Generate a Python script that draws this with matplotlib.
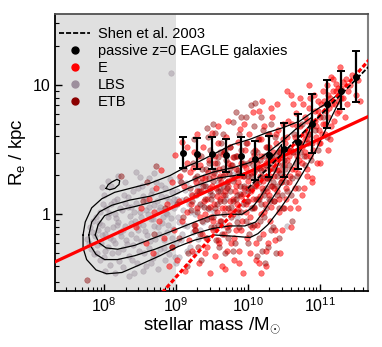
import numpy as np
import matplotlib.pyplot as plt
from matplotlib.lines import Line2D

plt.rcParams['font.family'] = ['Liberation Sans', 'DejaVu Sans']
plt.rcParams['mathtext.fontset'] = 'custom'
plt.rcParams['mathtext.rm'] = 'Liberation Sans'
plt.rcParams['mathtext.it'] = 'Liberation Sans:italic'

# passive EAGLE galaxies: median size per mass bin (log10 values)
bin_logm = [9.1, 9.3, 9.5, 9.7, 9.9, 10.1, 10.3, 10.5, 10.7, 10.9, 11.1, 11.3, 11.5]
bin_logr = [0.477, 0.469, 0.469, 0.461, 0.454, 0.428, 0.461, 0.505, 0.557, 0.698, 0.851, 0.954, 1.059]
bin_lo = [0.361, 0.353, 0.351, 0.325, 0.302, 0.265, 0.291, 0.291, 0.348, 0.477, 0.665, 0.814, 0.866]
bin_hi = [0.595, 0.588, 0.601, 0.585, 0.595, 0.570, 0.606, 0.709, 0.773, 0.928, 1.039, 1.108, 1.263]

# LBS
lbs_logm = [7.76, 7.80, 7.82, 7.85, 7.87, 7.90, 7.92, 7.94, 7.96, 7.98,
            8.00, 8.01, 8.03, 8.05, 8.06, 8.08, 8.10, 8.11, 8.13, 8.15,
            8.16, 8.18, 8.20, 8.21, 8.23, 8.25, 8.26, 8.28, 8.30, 8.31,
            8.33, 8.35, 8.36, 8.38, 8.40, 8.41, 8.43, 8.45, 8.46, 8.48,
            8.50, 8.51, 8.53, 8.55, 8.56, 8.58, 8.60, 8.61, 8.63, 8.65,
            8.66, 8.68, 8.70, 8.71, 8.73, 8.75, 8.76, 8.78, 8.80, 8.81,
            8.83, 8.85, 8.86, 8.88, 8.90, 8.91, 8.93, 8.95, 8.96, 8.98,
            9.00, 9.02, 9.04, 9.06, 9.08, 9.10, 9.13, 9.15, 9.18, 9.20,
            9.23, 9.26, 9.30, 9.33, 9.36, 9.40, 9.44, 9.48, 9.53, 9.58,
            9.64, 9.70, 9.78, 9.85, 9.95, 10.05, 10.20, 10.55, 8.93, 8.05,
            8.20, 8.45, 8.62, 7.98, 8.15, 8.35, 8.55, 8.75, 9.00, 9.25,
            7.79, 7.83, 7.86, 7.89, 7.91, 7.93, 7.95, 7.97, 7.99, 8.02,
            8.04, 8.07, 8.09, 8.12, 8.14, 8.17, 8.19, 8.22, 8.24, 8.27,
            8.29, 8.32, 8.34, 8.37, 8.39, 8.42, 8.44, 8.47, 8.49, 8.52,
            8.54, 8.57, 8.59, 8.62, 8.64, 8.67, 8.69, 8.72, 8.74, 8.77,
            8.79, 8.82, 8.84, 8.87, 8.89, 8.92, 8.94, 8.97, 8.99, 9.01,
            9.03, 9.05, 9.07, 9.09, 9.12, 9.14, 9.16, 9.19, 9.21, 9.24,
            9.27, 9.29, 9.31, 9.34, 9.38, 9.42, 9.46, 9.50, 9.55, 9.62,
            8.00, 8.10, 8.30, 8.50, 8.70, 8.26, 8.48, 8.68, 8.88, 8.58,
            8.18, 8.38, 8.78, 8.98, 9.11, 8.42, 8.65, 8.85, 9.05, 8.02]
lbs_logr = [-0.19, -0.10, -0.27, -0.05, -0.17, -0.30, -0.12, 0.02, -0.22, -0.08,
            -0.33, -0.15, 0.05, -0.25, -0.02, -0.18, 0.08, -0.30, -0.10, 0.00,
            -0.22, 0.12, -0.06, -0.36, -0.14, 0.03, -0.27, 0.15, -0.09, -0.20,
            0.06, -0.32, -0.01, -0.15, 0.18, -0.24, -0.05, 0.09, -0.38, -0.12,
            0.02, -0.21, 0.22, -0.08, -0.30, 0.11, -0.16, 0.00, -0.26, 0.16,
            -0.04, -0.34, 0.07, -0.19, 0.25, -0.10, 0.03, -0.27, 0.14, -0.07,
            -0.20, 0.20, 0.01, -0.14, 0.10, -0.31, -0.03, 0.17, -0.11, 0.05,
            -0.22, 0.12, -0.06, 0.26, -0.15, 0.03, 0.19, -0.09, 0.08, -0.25,
            0.14, 0.00, 0.22, -0.12, 0.07, 0.30, -0.04, 0.16, 0.02, 0.25,
            -0.08, 0.12, 0.31, -0.02, 0.18, 0.05, 0.28, -0.09, 1.09, 0.26,
            0.30, 0.33, 0.28, 0.21, -0.45, -0.48, -0.44, -0.42, -0.38, -0.30,
            -0.22, -0.14, -0.31, -0.02, -0.24, -0.07, -0.35, -0.16, 0.08, -0.28,
            -0.11, 0.01, -0.39, -0.20, 0.10, -0.03, -0.29, 0.05, -0.17, -0.41,
            0.09, -0.23, 0.13, -0.07, -0.35, 0.02, -0.18, 0.20, -0.28, -0.02,
            0.14, -0.13, -0.40, 0.06, -0.21, 0.19, -0.09, -0.31, 0.10, -0.15,
            0.23, -0.02, -0.26, 0.13, -0.08, 0.27, -0.18, 0.08, -0.33, 0.18,
            -0.02, 0.29, -0.20, 0.11, -0.08, 0.24, -0.28, 0.02, 0.16, -0.14,
            0.27, 0.06, -0.19, 0.18, -0.06, 0.22, 0.04, 0.34, -0.12, 0.20,
            0.15, 0.22, 0.25, 0.29, 0.32, -0.12, -0.08, -0.04, 0.00, 0.03,
            -0.08, 0.06, 0.06, 0.12, 0.36, -0.45, -0.38, -0.35, -0.33, -0.44]

# E
e_logm = [8.45, 8.52, 8.58, 8.63, 8.68, 8.72, 8.77, 8.80, 8.84, 8.88, 8.91, 8.94, 8.97, 8.99, 8.70,
          9.02, 9.04, 9.06, 9.08, 9.09, 9.11, 9.13, 9.15, 9.16, 9.18, 9.20, 9.22, 9.23, 9.25, 9.27,
          9.28, 9.30, 9.32, 9.33, 9.35, 9.37, 9.38, 9.40, 9.41, 9.43, 9.44, 9.46, 9.47, 9.48, 9.49,
          9.50, 9.51, 9.52, 9.53, 9.54, 9.55, 9.56, 9.57, 9.58, 9.59, 9.60, 9.61, 9.62, 9.63, 9.64,
          9.65, 9.66, 9.67, 9.68, 9.69, 9.70, 9.71, 9.72, 9.73, 9.74, 9.75, 9.76, 9.77, 9.78, 9.79,
          9.80, 9.81, 9.82, 9.83, 9.84, 9.85, 9.86, 9.87, 9.88, 9.89, 9.90, 9.91, 9.92, 9.93, 9.94,
          9.95, 9.96, 9.97, 9.98, 9.99,
          10.00, 10.01, 10.02, 10.03, 10.04, 10.05, 10.06, 10.07, 10.08, 10.09, 10.10, 10.11, 10.12,
          10.13, 10.14, 10.15, 10.16, 10.17, 10.18, 10.19, 10.20, 10.21, 10.22, 10.23, 10.24, 10.25,
          10.26, 10.27, 10.28, 10.29, 10.30, 10.31, 10.32, 10.33, 10.34, 10.35, 10.36, 10.37, 10.38,
          10.39, 10.40, 10.41, 10.42, 10.43, 10.44, 10.45, 10.46, 10.47, 10.48, 10.49,
          10.12, 10.25, 10.33, 10.45, 10.20,
          10.50, 10.52, 10.53, 10.55, 10.56, 10.58, 10.59, 10.60, 10.62, 10.63, 10.65, 10.66, 10.68,
          10.69, 10.70, 10.72, 10.73, 10.75, 10.76, 10.78, 10.79, 10.80, 10.82, 10.83, 10.85, 10.86,
          10.88, 10.89, 10.90, 10.92, 10.93, 10.95, 10.96, 10.98, 10.99, 10.60, 10.70, 10.55, 10.85, 10.78,
          11.00, 11.02, 11.04, 11.05, 11.07, 11.09, 11.10, 11.12, 11.14, 11.15, 11.17, 11.19, 11.20,
          11.22, 11.23, 11.25, 11.27, 11.28, 11.30, 11.33, 11.36, 11.40, 11.45, 11.12, 11.35,
          11.50, 11.56, 11.53, 11.16,
          9.21, 9.24, 9.26, 9.29, 9.31, 9.34, 9.36, 9.39, 9.42, 9.45,
          9.47, 9.50, 9.52, 9.55, 9.57, 9.60, 9.62, 9.64, 9.67, 9.69,
          9.71, 9.73, 9.75, 9.77, 9.79, 9.81, 9.83, 9.85, 9.87, 9.89,
          9.91, 9.93, 9.95, 9.97, 9.99, 10.01, 10.03, 10.05, 10.07, 10.09,
          10.11, 10.13, 10.15, 10.17, 10.19, 10.21, 10.23, 10.25, 10.27, 10.29,
          10.31, 10.33, 10.35, 10.37, 10.39, 10.41, 10.43, 10.45, 10.47, 10.49,
          10.51, 10.53, 10.55, 10.57, 10.59, 10.61, 10.63, 10.65, 10.67, 10.69,
          10.71, 10.73, 10.75, 10.77, 10.79, 10.81, 10.83, 10.85, 10.87, 10.89,
          10.91, 10.93, 10.95, 10.97, 10.99, 11.01, 11.03, 11.06, 11.08, 11.11,
          11.13, 11.16, 11.18, 11.21, 11.24, 11.26, 11.29, 11.32, 11.38, 11.42,
          9.58, 9.72, 9.95, 10.15, 10.40, 10.60, 10.50, 10.38, 10.28, 9.88,
          9.68, 10.18, 9.40, 10.65, 10.82, 11.00, 10.90, 9.30, 9.15, 8.95]
e_logr = [-0.10, 0.05, -0.22, 0.12, -0.30, 0.20, -0.05, 0.34, -0.18, 0.08, -0.40, 0.25, -0.12, 0.46, 0.02,
          -0.35, 0.10, 0.30, 0.56, -0.05, 0.22, -0.44, 0.40, 0.02, -0.20, 0.33, 0.15, -0.28, 0.48, -0.08,
          0.25, 0.05, -0.38, 0.38, 0.18, -0.15, 0.52, 0.00, 0.28, -0.25, 0.12, 0.42, -0.45, 0.20, -0.02,
          0.63, 0.30, -0.12, 0.08, 0.45, -0.32, 0.20, 0.02, 0.55, -0.20, 0.35, 0.12, -0.05, 0.25, -0.40,
          0.47, 0.15, -0.15, 0.32, 0.05, 0.60, -0.28, 0.22, 0.40, -0.08, 0.10, 0.52, -0.22, 0.28, 0.00,
          0.44, -0.35, 0.18, 0.35, -0.12, 0.08, 0.56, 0.25, -0.28, 0.66, 0.14, 0.40, -0.05, 0.30, -0.45,
          0.20, 0.50, 0.02, 0.36, -0.18,
          0.26, 0.10, 0.62, -0.30, 0.42, 0.18, -0.10, 0.79, 0.33, 0.05, 0.50, -0.22, 0.24,
          0.40, 0.12, -0.38, 0.58, 0.30, 0.00, 0.45, 0.20, -0.15, 0.68, 0.35, 0.08, 0.52,
          -0.28, 0.28, 0.42, 0.15, 0.62, -0.05, 0.36, 0.22, 0.75, 0.48, 0.10, 0.30, -0.20,
          0.55, 0.40, 0.18, 0.65, 0.02, 0.34, 0.50, 0.25, -0.12, 0.44, 0.70,
          -0.35, -0.40, 0.82, -0.30, 0.88,
          0.30, 0.55, 0.12, 0.42, 0.72, 0.25, 0.05, 0.50, 0.35, 0.85, 0.60, 0.20, 0.45,
          0.68, 0.32, 0.55, 0.90, 0.40, 0.15, 0.62, 0.48, 0.75, 0.35, 0.58, 0.82, 0.45,
          0.68, 0.28, 0.55, 0.92, 0.72, 0.60, 0.40, 0.80, 0.65, -0.10, 0.05, 0.95, 1.00, 0.20,
          0.55, 0.85, 0.70, 0.95, 0.62, 0.80, 1.00, 0.75, 0.90, 0.58, 0.85, 1.05, 0.72,
          0.95, 1.01, 0.88, 0.80, 1.14, 0.98, 0.90, 1.05, 0.95, 1.08, 0.50, 0.75,
          0.92, 0.88, 1.04, 1.06,
          0.08, 0.36, -0.12, 0.18, 0.45, -0.02, 0.28, 0.10, -0.18, 0.33,
          0.06, 0.22, -0.05, 0.40, 0.14, -0.22, 0.30, 0.05, 0.48, 0.18,
          -0.10, 0.26, 0.02, 0.38, 0.12, -0.18, 0.22, 0.45, 0.04, 0.30,
          -0.12, 0.16, 0.38, 0.08, 0.55, 0.20, -0.02, 0.32, 0.12, 0.46,
          0.22, -0.08, 0.36, 0.14, 0.58, 0.26, 0.02, 0.40, 0.18, 0.52,
          0.30, 0.06, 0.42, 0.20, 0.62, 0.34, 0.12, 0.48, 0.28, 0.58,
          0.38, 0.20, 0.60, 0.45, 0.30, 0.70, 0.48, 0.35, 0.78, 0.55,
          0.42, 0.68, 0.52, 0.85, 0.58, 0.45, 0.72, 0.62, 0.90, 0.70,
          0.50, 0.80, 0.68, 0.88, 0.55, 0.75, 0.62, 0.88, 0.70, 0.92,
          0.82, 0.68, 0.95, 0.85, 0.78, 0.98, 0.90, 1.02, 0.85, 1.00,
          0.68, 0.72, 0.70, 0.80, 0.85, 0.92, 0.05, -0.12, -0.22, -0.38,
          -0.42, -0.45, -0.30, 0.10, 0.30, 0.40, 0.25, 0.62, 0.52, -0.25]

# ETB
etb_logm = [7.76, 8.24, 8.73, 8.55, 8.70, 8.85, 8.95, 8.60,
            9.02, 9.05, 9.07, 9.10, 9.12, 9.14, 9.17, 9.19, 9.21, 9.24, 9.26, 9.28, 9.30, 9.31, 9.33,
            9.35, 9.36, 9.38, 9.40, 9.42, 9.43, 9.45, 9.46, 9.48, 9.49, 9.43, 9.25, 9.15, 9.35, 9.47,
            9.50, 9.51, 9.52, 9.53, 9.54, 9.55, 9.56, 9.57, 9.58, 9.59, 9.60, 9.61, 9.62, 9.63, 9.64,
            9.65, 9.66, 9.67, 9.68, 9.69, 9.70, 9.71, 9.72, 9.73, 9.74, 9.75, 9.76, 9.77, 9.78, 9.79,
            9.80, 9.81, 9.82, 9.83, 9.84, 9.85, 9.86, 9.87, 9.88, 9.89, 9.90, 9.91, 9.93, 9.95, 9.97,
            9.98, 10.00, 10.01, 10.02, 10.04, 10.05, 10.06, 10.07, 10.08, 10.09, 10.10, 10.11, 10.12,
            10.14, 10.15, 10.16, 10.17, 10.18, 10.20, 10.21, 10.22, 10.23, 10.25, 10.26, 10.27, 10.28,
            10.30, 10.31, 10.32, 10.34, 10.35, 10.37, 10.38, 10.40, 10.41, 10.43, 10.44, 10.46, 10.48,
            10.49, 10.13, 10.24, 10.39, 10.33, 10.19,
            10.52, 10.55, 10.58, 10.61, 10.64, 10.67, 10.70, 10.73, 10.76, 10.80, 10.84, 10.88, 10.93,
            10.97, 10.62, 11.05, 11.10,
            9.22, 9.25, 9.27, 9.29, 9.32, 9.34, 9.37, 9.39, 9.41, 9.44,
            9.46, 9.49, 9.51, 9.53, 9.55, 9.57, 9.59, 9.61, 9.63, 9.65,
            9.67, 9.69, 9.71, 9.73, 9.75, 9.77, 9.79, 9.81, 9.83, 9.85,
            9.87, 9.89, 9.91, 9.93, 9.95, 9.97, 9.99, 10.01, 10.03, 10.05,
            10.07, 10.09, 10.11, 10.13, 10.15, 10.17, 10.19, 10.21, 10.23, 10.25,
            10.27, 10.29, 10.31, 10.33, 10.35, 10.37, 10.39, 10.41, 10.43, 10.45,
            10.47, 10.50, 10.53, 10.57, 10.60, 10.63, 10.68, 10.72, 10.78, 10.85,
            9.60, 9.80, 10.00, 10.20, 9.45, 9.65, 9.88, 10.08, 10.28, 9.35]
etb_logr = [-0.51, 0.30, 0.37, 0.10, -0.15, 0.05, -0.25, 0.25,
            0.08, -0.18, 0.25, -0.02, 0.35, 0.12, -0.30, 0.20, 0.03, 0.40, -0.12, 0.15, 0.30, -0.25, 0.08,
            0.45, -0.05, 0.22, 0.12, 0.35, -0.18, 0.05, 0.28, 0.50, -0.10, 0.665, 0.58, -0.40, -0.35, 0.18,
            0.15, -0.02, 0.70, 0.32, 0.626, 0.05, -0.20, 0.40, 0.18, -0.08, 0.28, 0.48, 0.10, 0.554, -0.15,
            0.22, 0.36, 0.00, 0.15, -0.30, 0.42, 0.25, 0.05, -0.12, 0.32, 0.52, 0.18, -0.02, 0.38, 0.10,
            0.716, 0.28, -0.22, 0.79, 0.45, 0.15, 0.02, 0.34, -0.10, 0.22, 0.50, 0.755, 0.08, 0.30, -0.05,
            0.755, 0.40, 0.18, -0.15, 0.30, 0.845, 0.05, 0.48, 0.22, -0.08, 0.863, 0.35, 0.12,
            0.58, 0.25, -0.18, 0.42, 0.08, 0.30, 0.65, 0.15, -0.02, 0.38, 0.20, 0.52, -0.25,
            0.28, 0.10, 0.45, 0.22, -0.10, 0.35, 0.60, 0.15, 0.30, 0.48, -0.18, 0.25, 0.38,
            0.05, -0.32, -0.38, -0.30, 0.70, 0.75,
            0.35, 0.18, 0.50, 0.28, 0.62, 0.40, 0.20, 0.48, 0.70, 0.38, 0.55, 0.42, 0.65,
            0.50, -0.05, 0.75, 0.60,
            0.10, -0.08, 0.28, 0.02, 0.18, -0.15, 0.35, 0.06, 0.22, -0.04,
            0.40, 0.12, 0.26, -0.10, 0.34, 0.08, 0.44, 0.18, -0.05, 0.30,
            0.10, 0.50, 0.20, -0.18, 0.36, 0.06, 0.26, 0.44, 0.12, -0.06,
            0.32, 0.16, 0.02, 0.40, 0.22, 0.55, 0.10, 0.30, -0.08, 0.20,
            0.38, 0.06, 0.26, 0.48, 0.12, -0.05, 0.34, 0.18, 0.45, 0.05,
            0.28, 0.12, 0.40, -0.12, 0.25, 0.10, 0.46, 0.22, 0.05, 0.32,
            0.15, 0.42, 0.25, 0.38, 0.15, 0.48, 0.30, 0.55, 0.45, 0.62,
            -0.25, -0.28, -0.22, -0.28, 0.60, 0.62, 0.62, 0.68, 0.62, 0.25]

# density contours (log mass, log size)
outer_logm = [7.71, 7.74, 7.83, 7.97, 8.15, 8.36, 8.64, 8.92, 9.15, 9.33, 9.54, 9.79, 10.03, 10.26,
              10.49, 10.72, 10.90, 11.10, 11.24, 11.32, 11.28, 11.18, 11.07, 10.96, 10.83, 10.69,
              10.56, 10.42, 10.28, 10.14, 10.03, 9.82, 9.54, 9.26, 9.03, 8.78, 8.50, 8.25, 8.04,
              7.89, 7.76, 7.71, 7.71]
outer_logr = [-0.16, -0.06, 0.05, 0.12, 0.17, 0.20, 0.24, 0.30, 0.37, 0.41, 0.47, 0.54, 0.58, 0.63,
              0.67, 0.72, 0.79, 0.86, 0.92, 0.95, 0.88, 0.77, 0.64, 0.51, 0.38, 0.25,
              0.13, 0.02, -0.08, -0.15, -0.18, -0.17, -0.16, -0.20, -0.25, -0.32, -0.39, -0.45, -0.46,
              -0.43, -0.35, -0.26, -0.16]
mid_logm = [7.79, 7.83, 7.94, 8.11, 8.36, 8.64, 8.92, 9.13, 9.33, 9.54, 9.79, 10.03, 10.19, 10.33,
            10.49, 10.65, 10.79, 10.89, 10.86, 10.75, 10.63, 10.49, 10.35, 10.22, 10.11, 9.96, 9.75,
            9.51, 9.26, 8.99, 8.71, 8.43, 8.19, 8.01, 7.89, 7.81, 7.79]
mid_logr = [-0.16, -0.06, 0.02, 0.07, 0.11, 0.14, 0.19, 0.24, 0.29, 0.33, 0.36, 0.40, 0.44, 0.50,
            0.57, 0.65, 0.71, 0.75, 0.65, 0.51, 0.38, 0.25, 0.13, 0.02, -0.06, -0.09, -0.09,
            -0.11, -0.15, -0.21, -0.27, -0.32, -0.35, -0.35, -0.31, -0.24, -0.16]
inner_logm = [7.88, 7.92, 8.01, 8.19, 8.43, 8.71, 8.94, 9.17, 9.38, 9.58, 9.82, 10.03, 10.17, 10.28,
              10.39, 10.47, 10.47, 10.39, 10.28, 10.17, 10.06, 9.92, 9.72, 9.50, 9.26, 8.99, 8.71,
              8.43, 8.19, 8.03, 7.93, 7.88]
inner_logr = [-0.16, -0.08, -0.01, 0.03, 0.06, 0.10, 0.14, 0.20, 0.24, 0.28, 0.30, 0.33, 0.36, 0.40,
              0.48, 0.54, 0.46, 0.34, 0.23, 0.13, 0.05, 0.00, 0.00, -0.01, -0.06, -0.12, -0.18,
              -0.24, -0.27, -0.26, -0.22, -0.16]
island_logm = [8.03, 8.06, 8.11, 8.18, 8.22, 8.21, 8.15, 8.08, 8.03]
island_logr = [0.20, 0.23, 0.25, 0.27, 0.26, 0.23, 0.20, 0.19, 0.20]

# fitted relations (end points, log values)
fit_all_logm = [7.0, 12.0]
fit_all_logr = [-0.45, 0.84]
fit_e_logm = [8.5, 12.0]
fit_e_logr = [-0.80, 1.39]
shen_logm = [10.0, 11.8]
shen_logr = [0.20, 1.208]

c_e = '#ff0000'
c_lbs = '#9d8f9d'
c_etb = '#8b0000'

fig = plt.figure(figsize=(3.82, 3.47), dpi=100)
ax = fig.add_axes([0.144, 0.1614, 0.819, 0.7983])
ax.set_xscale('log')
ax.set_yscale('log')

ax.axvspan(1e6, 1e9, color='#e0e0e0', lw=0, zorder=0)

ms = 16
ax.scatter(10**np.array(lbs_logm), 10**np.array(lbs_logr), s=ms, color=c_lbs, alpha=0.45, lw=0.4, zorder=2)
ax.scatter(10**np.array(e_logm), 10**np.array(e_logr), s=ms, color=c_e, alpha=0.55, lw=0.4, zorder=2)
ax.scatter(10**np.array(etb_logm), 10**np.array(etb_logr), s=ms, color=c_etb, alpha=0.45, lw=0.4, zorder=2)

for cm, cr in [(outer_logm, outer_logr), (mid_logm, mid_logr), (inner_logm, inner_logr),
               (island_logm, island_logr)]:
    ax.plot(10**np.array(cm), 10**np.array(cr), color='black', lw=0.9, zorder=3)

ax.plot(10**np.array(fit_all_logm), 10**np.array(fit_all_logr), color=c_e, lw=2.3, zorder=4)
ax.plot(10**np.array(fit_e_logm), 10**np.array(fit_e_logr), color=c_e, lw=2.3,
        ls=(0, (1.4, 0.7)), zorder=4)
ax.plot(10**np.array(shen_logm), 10**np.array(shen_logr), color='black', lw=1.3,
        ls=(0, (2.8, 1.1)), zorder=5)

bm = 10**np.array(bin_logm)
br = 10**np.array(bin_logr)
yerr = [br - 10**np.array(bin_lo), 10**np.array(bin_hi) - br]
ax.errorbar(bm, br, yerr=yerr, fmt='o', color='black', ms=4, elinewidth=1.6, capsize=2.6,
            capthick=1.4, zorder=6)

ax.set_xlim(10**7.32, 10**11.67)
ax.set_ylim(10**-0.593, 10**1.549)

ax.tick_params(which='both', direction='in', top=False, right=False, labelsize=11.5)
ax.tick_params(which='major', length=5, width=1)
ax.tick_params(which='minor', length=3, width=0.8)
ax.set_yticks([1, 10])
ax.set_yticklabels(['1', '10'])
for s in ['left', 'bottom']:
    ax.spines[s].set_linewidth(1.3)
ax.spines['top'].set_color('#505050')
ax.spines['right'].set_color('#808080')
ax.spines['top'].set_linewidth(1.3)
ax.spines['right'].set_linewidth(1.5)

ax.set_xlabel(r'stellar mass /M$_{\odot}$', fontsize=13.5, labelpad=0)
ax.set_ylabel(r'R$_\mathrm{e}$ / kpc', fontsize=13.5, labelpad=3)

handles = [Line2D([], [], color='black', lw=1.3, ls=(0, (2.8, 1.1))),
           Line2D([], [], color='black', marker='o', ls='none', ms=5),
           Line2D([], [], color=c_e, marker='o', ls='none', ms=5),
           Line2D([], [], color=c_lbs, marker='o', ls='none', ms=5),
           Line2D([], [], color=c_etb, marker='o', ls='none', ms=5)]
labels = ['Shen et al. 2003', 'passive z=0 EAGLE galaxies', 'E', 'LBS', 'ETB']
ax.legend(handles, labels, loc='upper left', frameon=False, fontsize=10.5,
          handlelength=2.1, handletextpad=0.55, labelspacing=0.2,
          borderpad=0.1, borderaxespad=0.2, bbox_to_anchor=(0.0, 0.968))

fig.savefig('out.png', dpi=100)
